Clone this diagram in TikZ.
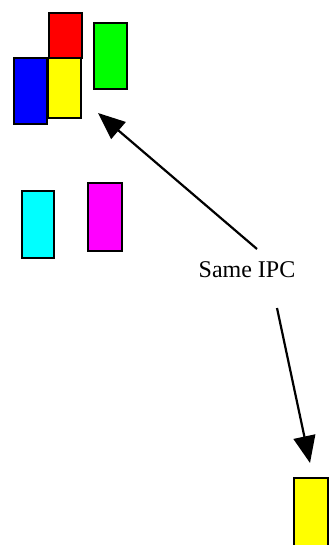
\documentclass[tikz,border=0pt]{standalone}
\usepackage{fontspec}
\setmainfont{Liberation Serif}
\usetikzlibrary{arrows.meta}
\definecolor{boxred}{RGB}{255,0,0}
\definecolor{boxgreen}{RGB}{0,255,0}
\definecolor{boxblue}{RGB}{0,0,255}
\definecolor{boxyellow}{RGB}{255,255,0}
\definecolor{boxcyan}{RGB}{0,255,255}
\definecolor{boxmagenta}{RGB}{255,0,255}
\begin{document}
\begin{tikzpicture}[x=1pt,y=-1pt,
  block/.style={draw=black,line width=2.6pt},
  pointer/.style={draw=black,line width=2.2pt,-{Triangle[length=27pt,width=22pt]}}]
\useasboundingbox (0,0) rectangle (329,545);
% upper cluster
\filldraw[block,fill=boxred] (49,13) rectangle (82,58);
\filldraw[block,fill=boxgreen] (94,23) rectangle (127,89);
\filldraw[block,fill=boxblue] (14,58) rectangle (47,124);
\filldraw[block,fill=boxyellow] (48,58) rectangle (81,118);
% middle pair
\filldraw[block,fill=boxcyan] (22,191) rectangle (54,258);
\filldraw[block,fill=boxmagenta] (88,183) rectangle (122,251);
% lone box at the bottom right
\filldraw[block,fill=boxyellow] (294,478) rectangle (328,546);
\node[font=\fontsize{24}{28}\selectfont] (lbl) at (247,270) {Same IPC};
\coordinate (a1s) at (257,249);
\coordinate (a1e) at (98,113);
\coordinate (a2s) at (277,308);
\coordinate (a2e) at (310,463);
\draw[pointer] (a1s) -- (a1e);
\draw[pointer] (a2s) -- (a2e);
\end{tikzpicture}
\end{document}
